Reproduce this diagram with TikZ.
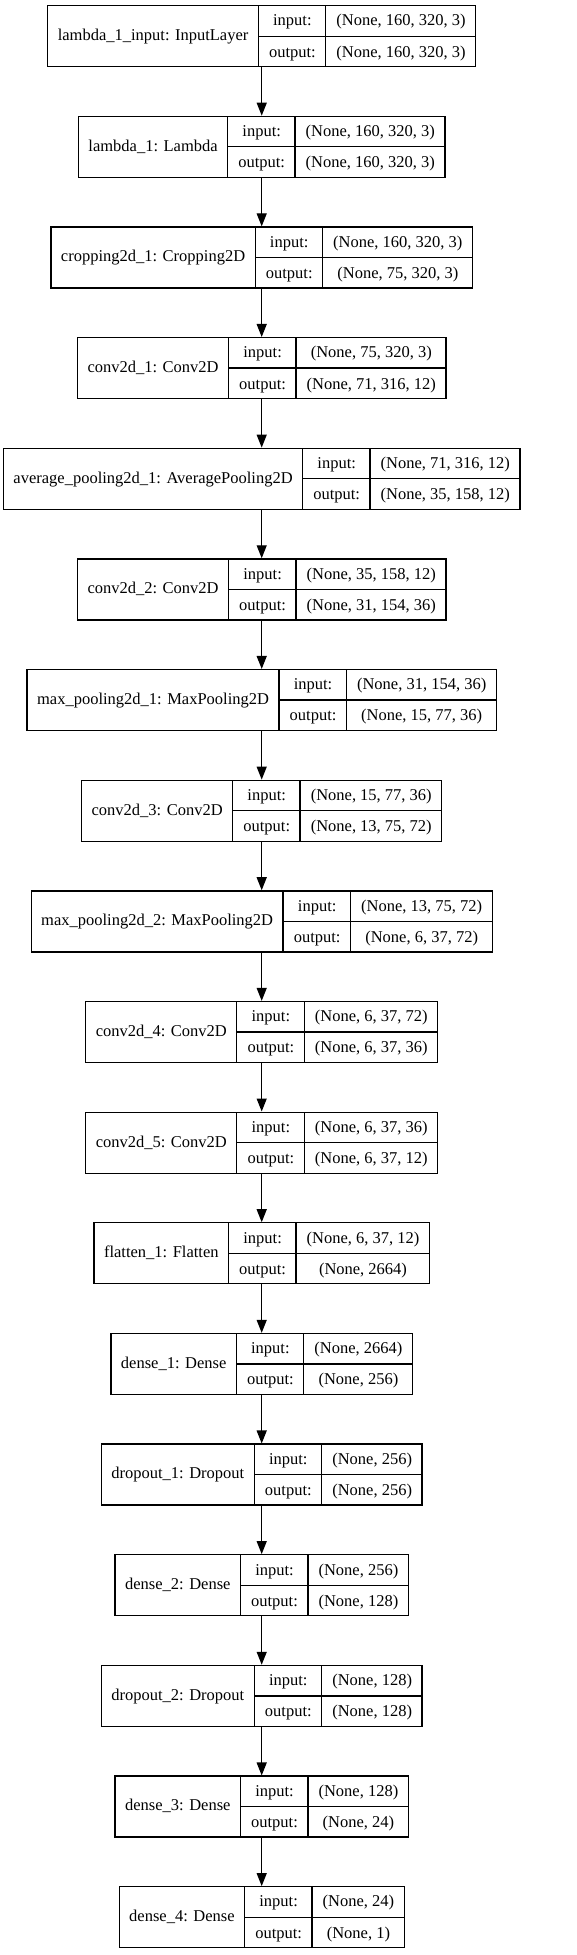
\documentclass[tikz,border=0pt]{standalone}
\usepackage{fontspec}
\setmainfont{Liberation Serif}
\usetikzlibrary{arrows.meta,positioning}

\setlength{\arrayrulewidth}{1.3pt}
\newcommand{\kfont}{\fontsize{16.5}{19}\selectfont}
\newcommand{\rowstrut}{\rule[-9.6pt]{0pt}{29.85pt}}
% layer record: label | input:/output: | shapes
\newcommand{\layerbox}[3]{%
  \begin{tabular}{@{\hspace{10pt}}c@{\hspace{10pt}}|@{}c@{}}
    #1 &
    \begin{tabular}{@{\hspace{10pt}}c@{\hspace{10pt}}|@{\hspace{10pt}}c@{\hspace{10pt}}}
      \rowstrut input: & #2 \\ \hline
      \rowstrut output: & #3
    \end{tabular}
  \end{tabular}}

\begin{document}
\begin{tikzpicture}[
    x=1pt, y=1pt,
    node distance=48.35pt,
    layer/.style={
        draw,
        line width=1.3pt,
        inner sep=0pt,
        font=\kfont
    },
    arrow/.style={-{Triangle[length=13pt,width=10pt]}, line width=1.3pt}
]
\useasboundingbox (0,0) rectangle (577,1955);

% Layers
\node[layer] (in1) at (261.7,1918.8) {\layerbox{lambda\_1\_input: InputLayer}{(None, 160, 320, 3)}{(None, 160, 320, 3)}};
\node[layer, below=of in1] (lambda1) {\layerbox{lambda\_1: Lambda}{(None, 160, 320, 3)}{(None, 160, 320, 3)}};
\node[layer, below=of lambda1] (crop1) {\layerbox{cropping2d\_1: Cropping2D}{(None, 160, 320, 3)}{(None, 75, 320, 3)}};
\node[layer, below=of crop1] (conv1) {\layerbox{conv2d\_1: Conv2D}{(None, 75, 320, 3)}{(None, 71, 316, 12)}};
\node[layer, below=of conv1] (avgpool1) {\layerbox{average\_pooling2d\_1: AveragePooling2D}{(None, 71, 316, 12)}{(None, 35, 158, 12)}};
\node[layer, below=of avgpool1] (conv2) {\layerbox{conv2d\_2: Conv2D}{(None, 35, 158, 12)}{(None, 31, 154, 36)}};
\node[layer, below=of conv2] (maxpool1) {\layerbox{max\_pooling2d\_1: MaxPooling2D}{(None, 31, 154, 36)}{(None, 15, 77, 36)}};
\node[layer, below=of maxpool1] (conv3) {\layerbox{conv2d\_3: Conv2D}{(None, 15, 77, 36)}{(None, 13, 75, 72)}};
\node[layer, below=of conv3] (maxpool2) {\layerbox{max\_pooling2d\_2: MaxPooling2D}{(None, 13, 75, 72)}{(None, 6, 37, 72)}};
\node[layer, below=of maxpool2] (conv4) {\layerbox{conv2d\_4: Conv2D}{(None, 6, 37, 72)}{(None, 6, 37, 36)}};
\node[layer, below=of conv4] (conv5) {\layerbox{conv2d\_5: Conv2D}{(None, 6, 37, 36)}{(None, 6, 37, 12)}};
\node[layer, below=of conv5] (flat1) {\layerbox{flatten\_1: Flatten}{(None, 6, 37, 12)}{(None, 2664)}};
\node[layer, below=of flat1] (dense1) {\layerbox{dense\_1: Dense}{(None, 2664)}{(None, 256)}};
\node[layer, below=of dense1] (drop1) {\layerbox{dropout\_1: Dropout}{(None, 256)}{(None, 256)}};
\node[layer, below=of drop1] (dense2) {\layerbox{dense\_2: Dense}{(None, 256)}{(None, 128)}};
\node[layer, below=of dense2] (drop2) {\layerbox{dropout\_2: Dropout}{(None, 128)}{(None, 128)}};
\node[layer, below=of drop2] (dense3) {\layerbox{dense\_3: Dense}{(None, 128)}{(None, 24)}};
\node[layer, below=of dense3] (dense4) {\layerbox{dense\_4: Dense}{(None, 24)}{(None, 1)}};

% Arrows
\foreach \a/\b in {in1/lambda1, lambda1/crop1, crop1/conv1, conv1/avgpool1,
    avgpool1/conv2, conv2/maxpool1, maxpool1/conv3, conv3/maxpool2,
    maxpool2/conv4, conv4/conv5, conv5/flat1, flat1/dense1, dense1/drop1,
    drop1/dense2, dense2/drop2, drop2/dense3, dense3/dense4}
    \draw[arrow] (\a) -- (\b);

\end{tikzpicture}
\end{document}
